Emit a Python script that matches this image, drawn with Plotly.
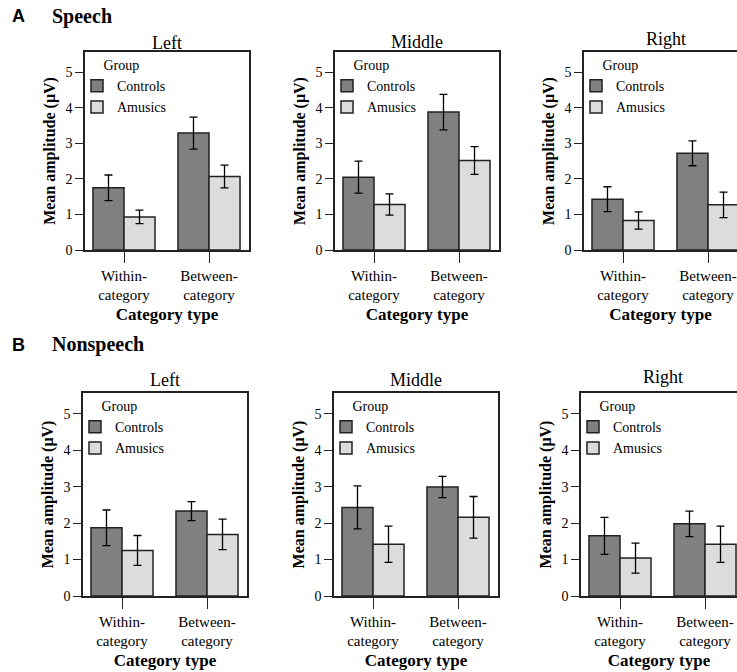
import plotly.graph_objects as go

# ---------------- data ----------------
categories = ["Within-<br>category", "Between-<br>category"]
groups = ["Controls", "Amusics"]
regions = ["Left", "Middle", "Right"]
conditions = ["Speech", "Nonspeech"]

speech_controls_mean = {"Left": [1.75, 3.29], "Middle": [2.05, 3.88], "Right": [1.43, 2.72]}
speech_controls_err = {"Left": [0.36, 0.45], "Middle": [0.45, 0.50], "Right": [0.35, 0.35]}
speech_amusics_mean = {"Left": [0.93, 2.07], "Middle": [1.28, 2.52], "Right": [0.83, 1.27]}
speech_amusics_err = {"Left": [0.19, 0.32], "Middle": [0.30, 0.39], "Right": [0.24, 0.36]}

nonspeech_controls_mean = {"Left": [1.87, 2.33], "Middle": [2.43, 2.99], "Right": [1.65, 1.98]}
nonspeech_controls_err = {"Left": [0.49, 0.26], "Middle": [0.59, 0.29], "Right": [0.51, 0.35]}
nonspeech_amusics_mean = {"Left": [1.25, 1.69], "Middle": [1.42, 2.16], "Right": [1.04, 1.42]}
nonspeech_amusics_err = {"Left": [0.41, 0.42], "Middle": [0.50, 0.57], "Right": [0.41, 0.50]}

y_ticks = [0, 1, 2, 3, 4, 5]

# ---------------- style / layout ----------------
W, H = 737, 672
SERIF = "Liberation Serif"
SANS = "Liberation Sans"
colors = {"Controls": "#808080", "Amusics": "#dcdcdc"}

# pixel geometry of the panel boxes
rows_px = {
    "Speech": {"top": 52, "bottom": 250, "lefts": [85, 335, 584], "title_y": [43, 42, 39]},
    "Nonspeech": {"top": 393, "bottom": 596, "lefts": [83, 334, 581], "title_y": [380, 380, 377]},
}
BOX_W = 164
CAT_OFF = 39      # px from box left to first category
CAT_STEP = 85     # px between categories

data_by_cond = {
    "Speech": (speech_controls_mean, speech_controls_err, speech_amusics_mean, speech_amusics_err),
    "Nonspeech": (nonspeech_controls_mean, nonspeech_controls_err, nonspeech_amusics_mean, nonspeech_amusics_err),
}

fig = go.Figure()
layout = dict(
    width=W, height=H,
    margin=dict(l=0, r=0, t=0, b=0, autoexpand=False),
    paper_bgcolor="white", plot_bgcolor="white",
    barmode="group", bargap=0.27, bargroupgap=0,
    font=dict(family=SERIF, color="black"),
    annotations=[],
)

idx = 0
for cond in conditions:
    geo = rows_px[cond]
    cm, ce, am, ae = data_by_cond[cond]
    ydom = [1 - geo["bottom"] / H, 1 - geo["top"] / H]
    for j, reg in enumerate(regions):
        idx += 1
        sfx = "" if idx == 1 else str(idx)
        left = geo["lefts"][j]
        right = min(left + BOX_W, W)
        cat0 = left + CAT_OFF
        xr = [(left - cat0) / CAT_STEP, (right - cat0) / CAT_STEP]
        clipped = right < left + BOX_W
        legname = "legend" if idx == 1 else f"legend{idx}"

        for g, means, errs in (("Controls", cm, ce), ("Amusics", am, ae)):
            fig.add_trace(go.Bar(
                x=categories, y=means[reg], name=g,
                xaxis="x" + sfx, yaxis="y" + sfx,
                legend=legname, showlegend=True,
                marker=dict(color=colors[g], line=dict(color="#222222", width=1.5)),
                error_y=dict(type="data", array=errs[reg], color="black", thickness=1.3, width=4),
            ))

        layout["xaxis" + sfx] = dict(
            domain=[left / W, right / W], anchor="y" + sfx,
            type="category", range=xr, automargin=False,
            showline=True, linecolor="#222", linewidth=1.5, mirror=True,
            ticks="outside", ticklen=11, tickwidth=1.3, tickcolor="#222",
            tickfont=dict(family=SERIF, size=15, color="black"),
            showgrid=False, zeroline=False, fixedrange=True,
            title=dict(text="<b>Category type</b>", font=dict(family=SERIF, size=17, color="black"), standoff=6),
        )
        layout["yaxis" + sfx] = dict(
            domain=ydom, anchor="x" + sfx, automargin=False,
            range=[0, 5.57], tickvals=y_ticks,
            showline=True, linecolor="#222", linewidth=1.5, mirror=not clipped,
            ticks="outside", ticklen=8, tickwidth=1.3, tickcolor="#222",
            tickfont=dict(family=SERIF, size=14, color="black"),
            showgrid=False, zeroline=False, fixedrange=True,
            title=dict(text="<b>Mean amplitude (μV)</b>", font=dict(family=SERIF, size=16, color="black"), standoff=6),
        )
        layout[legname] = dict(
            x=(left - 8) / W, y=1 - geo["top"] / H, xanchor="left", yanchor="top",
            bgcolor="rgba(0,0,0,0)", borderwidth=0,
            font=dict(family=SERIF, size=14, color="black"),
            title=dict(text="\u00a0\u00a0\u00a0\u00a0\u00a0\u00a0\u00a0Group", font=dict(family=SERIF, size=14, color="black")),
            itemwidth=30, tracegroupgap=0, itemclick=False, itemdoubleclick=False,
        )
        # panel title
        layout["annotations"].append(dict(
            text=reg, x=(left + BOX_W / 2) / W, y=1 - geo["title_y"][j] / H,
            xref="paper", yref="paper", xanchor="center", yanchor="middle", showarrow=False,
            font=dict(family=SERIF, size=18, color="black"),
        ))

# section labels
for letter, name, ypx in (("A", "Speech", 16), ("B", "Nonspeech", 345)):
    layout["annotations"].append(dict(
        text=f"<b>{letter}</b>", x=10 / W, y=1 - ypx / H, xref="paper", yref="paper",
        xanchor="left", yanchor="middle", showarrow=False,
        font=dict(family=SANS, size=18, color="black"),
    ))
    layout["annotations"].append(dict(
        text=f"<b>{name}</b>", x=50 / W, y=1 - ypx / H, xref="paper", yref="paper",
        xanchor="left", yanchor="middle", showarrow=False,
        font=dict(family=SERIF, size=20, color="black"),
    ))

fig.update_layout(**layout)
fig.write_html(
    "out.html",
    config={"displayModeBar": False},
    post_script="document.body.style.margin='0';document.body.style.overflow='hidden';",
)
